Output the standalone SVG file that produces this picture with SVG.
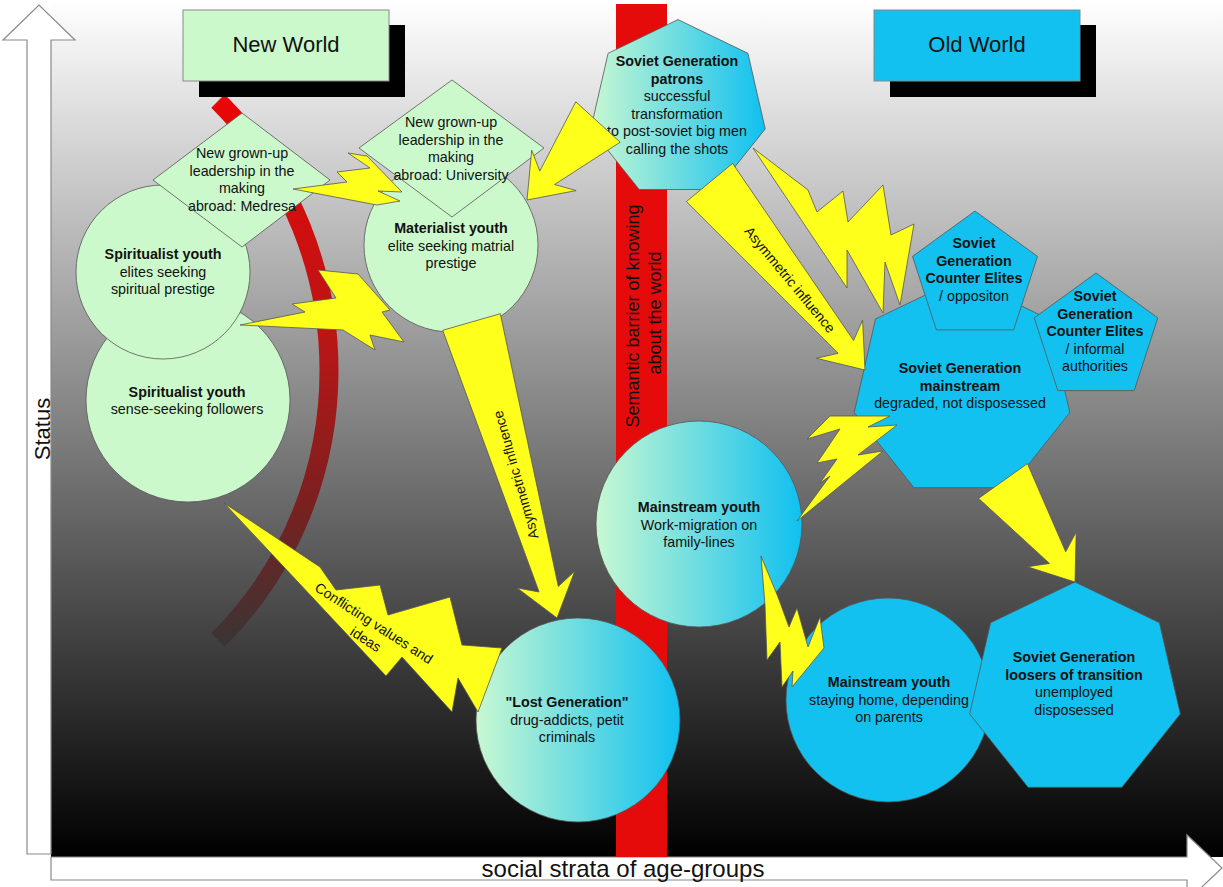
<svg xmlns="http://www.w3.org/2000/svg" width="1223" height="887" viewBox="0 0 1223 887">
<defs>
<style>
.t{font-family:"Liberation Sans",Arial,sans-serif;fill:#111;}
.n{font-size:14.3px;text-anchor:middle;}
.b{font-weight:bold;}
.green{fill:#ccf9cc;stroke:#555;stroke-width:0.8;}
.blue{fill:#13c1f0;stroke:#555;stroke-width:0.8;}
.grad{fill:url(#gb);stroke:#555;stroke-width:0.8;}
.bolt{fill:#ffff1c;stroke:#555;stroke-width:0.8;stroke-linejoin:miter;}
.axis{fill:#fff;stroke:#8a8a8a;stroke-width:1.2;}
</style>
<linearGradient id="bg" x1="0" y1="0" x2="0" y2="1"><stop offset="0" stop-color="#ffffff"/><stop offset="1" stop-color="#000000"/></linearGradient>
<linearGradient id="gb" x1="0" y1="0" x2="1" y2="0"><stop offset="0" stop-color="#c8f8d2"/><stop offset="1" stop-color="#10c0f0"/></linearGradient>
<linearGradient id="arcg" gradientUnits="userSpaceOnUse" x1="0" y1="100" x2="0" y2="640"><stop offset="0" stop-color="#ea0606"/><stop offset="0.45" stop-color="#b81616"/><stop offset="0.75" stop-color="#7a2020"/><stop offset="1" stop-color="#3c3434"/></linearGradient>
</defs>

<g id="background">
<rect x="51" y="0" width="1172" height="857" fill="url(#bg)"/>
</g>

<g id="axes">
<polygon class="axis" points="27,854 27,40 3,40 39,5 75,40 51,40 51,854"/>
<polygon class="axis" points="51,857 1187,857 1187,835 1222,868 1187,901 1187,880 51,880"/>
<text class="t" font-size="22" text-anchor="middle" transform="translate(50,429) rotate(-90)">Status</text>
<text class="t" font-size="24" text-anchor="middle" x="623" y="877">social strata of age-groups</text>
</g>

<g id="semantic-barrier">
<rect x="616" y="4" width="51" height="853" fill="#e60b0b"/>
<text class="t" font-size="18" text-anchor="middle" transform="translate(639,316) rotate(-90)">Semantic barrier of knowing</text>
<text class="t" font-size="18" text-anchor="middle" transform="translate(661,313) rotate(-90)">about the world</text>
</g>

<g id="generation-arc">
<path d="M218,101 C366,249 366,492 218,640" fill="none" stroke="url(#arcg)" stroke-width="19"/>
</g>

<g id="title-new-world">
<rect x="199" y="25" width="206" height="72" fill="#000"/>
<rect x="183" y="10" width="206" height="71" fill="#ccf9cc" stroke="#888" stroke-width="1"/>
<text class="t" font-size="22" text-anchor="middle" x="286" y="52">New World</text>
</g>

<g id="title-old-world">
<rect x="890" y="25" width="206" height="72" fill="#000"/>
<rect x="874" y="10" width="206" height="71" fill="#13c1f0" stroke="#888" stroke-width="1"/>
<text class="t" font-size="22" text-anchor="middle" x="977" y="52">Old World</text>
</g>

<g id="spiritualist-followers">
<circle class="green" cx="188" cy="400" r="102"/>
<text class="t n"><tspan class="b" x="187" y="397">Spiritualist youth</tspan><tspan x="187" y="414">sense-seeking followers</tspan></text>
</g>

<g id="spiritualist-elites">
<circle class="green" cx="163" cy="272" r="87"/>
<text class="t n"><tspan class="b" x="163" y="259">Spiritualist youth</tspan><tspan x="163" y="276.5">elites seeking</tspan><tspan x="163" y="294">spiritual prestige</tspan></text>
</g>

<g id="leadership-medresa">
<polygon class="green" points="153,180 242,113 330,180 242,247"/>
<text class="t n"><tspan x="242" y="158">New grown-up</tspan><tspan x="242" y="175.5">leadership in the</tspan><tspan x="242" y="193">making</tspan><tspan x="242" y="210.5">abroad: Medresa</tspan></text>
</g>

<g id="materialist-youth">
<circle class="green" cx="451" cy="245" r="87"/>
<text class="t n"><tspan class="b" x="451" y="233">Materialist youth</tspan><tspan x="451" y="250.5">elite seeking matrial</tspan><tspan x="451" y="268">prestige</tspan></text>
</g>

<g id="leadership-university">
<polygon class="green" points="359,148 452,80 544,148 452,217"/>
<text class="t n"><tspan x="451" y="127">New grown-up</tspan><tspan x="451" y="144.5">leadership in the</tspan><tspan x="451" y="162">making</tspan><tspan x="451" y="179.5">abroad: University</tspan></text>
</g>

<g id="soviet-patrons">
<polygon class="grad" points="678,19.6 747.9,53.3 765.2,128.9 716.8,189.5 639.2,189.5 590.8,128.9 608.1,53.3"/>
<text class="t n"><tspan class="b" x="677" y="66">Soviet Generation</tspan><tspan class="b" x="677" y="83.5">patrons</tspan><tspan x="677" y="101">successful</tspan><tspan x="677" y="118.5">transformation</tspan><tspan x="677" y="136">to post-soviet big men</tspan><tspan x="677" y="153.5">calling the shots</tspan></text>
</g>

<g id="soviet-mainstream">
<polygon class="blue" points="962,277.4 1048.5,319 1069.8,412.6 1010,487.7 914,487.7 854.2,412.6 875.5,319"/>
<text class="t n"><tspan class="b" x="960" y="373">Soviet Generation</tspan><tspan class="b" x="960" y="390.5">mainstream</tspan><tspan x="960" y="408">degraded, not disposessed</tspan></text>
</g>

<g id="counter-elites-opposition">
<polygon class="blue" points="975,211 1037.5,256.4 1013.6,329.9 936.4,329.9 912.5,256.4"/>
<text class="t n"><tspan class="b" x="974" y="248">Soviet</tspan><tspan class="b" x="974" y="265.5">Generation</tspan><tspan class="b" x="974" y="283">Counter Elites</tspan><tspan x="974" y="300.5">/ oppositon</tspan></text>
</g>

<g id="counter-elites-informal">
<polygon class="blue" points="1096,273 1157.8,317.9 1134.2,390.6 1057.8,390.6 1034.2,317.9"/>
<text class="t n"><tspan class="b" x="1095" y="301">Soviet</tspan><tspan class="b" x="1095" y="318.5">Generation</tspan><tspan class="b" x="1095" y="336">Counter Elites</tspan><tspan x="1095" y="353.5">/ informal</tspan><tspan x="1095" y="371">authorities</tspan></text>
</g>

<g id="mainstream-migration">
<circle class="grad" cx="699" cy="524" r="103"/>
<text class="t n"><tspan class="b" x="699" y="512">Mainstream youth</tspan><tspan x="699" y="529.5">Work-migration on</tspan><tspan x="699" y="547">family-lines</tspan></text>
</g>

<g id="lost-generation">
<circle class="grad" cx="578" cy="720" r="102"/>
<text class="t n"><tspan class="b" x="567" y="707">"Lost Generation"</tspan><tspan x="567" y="724.5">drug-addicts, petit</tspan><tspan x="567" y="742">criminals</tspan></text>
</g>

<g id="mainstream-home">
<circle class="blue" cx="888" cy="700" r="102"/>
<text class="t n"><tspan class="b" x="889" y="687">Mainstream youth</tspan><tspan x="889" y="704.5">staying home, depending</tspan><tspan x="889" y="722">on parents</tspan></text>
</g>

<g id="soviet-loosers">
<polygon class="blue" points="1075,582 1159.4,622.7 1180.3,714 1121.9,787.3 1028.1,787.3 969.7,714 990.6,622.7"/>
<text class="t n"><tspan class="b" x="1074" y="662">Soviet Generation</tspan><tspan class="b" x="1074" y="679.5">loosers of transition</tspan><tspan x="1074" y="697">unemployed</tspan><tspan x="1074" y="714.5">disposessed</tspan></text>
</g>

<g id="connectors">
<polygon class="bolt" points="575.8,101.8 539.8,171.1 531.7,150.2 527,200 576.1,190.6 554.6,184.5 620.2,142.2"/>
<polygon class="bolt" points="442.7,330.3 539.1,592 517.1,587.9 557,618 574.7,571.3 558.3,586.4 500.3,313.7"/>
<text class="t" font-size="14" text-anchor="middle" transform="translate(515.7,475) rotate(-106)" y="5">Asymmetric influence</text>
<polygon class="bolt" points="686.4,201.6 838.2,353.3 816.4,358.3 865,370 862.6,320.1 853.6,340.5 732.6,163.4"/>
<text class="t" font-size="14" text-anchor="middle" transform="translate(790,279.6) rotate(50.3)" y="5">Asymmetric influence</text>
<polygon class="bolt" points="978.6,498.4 1049.5,563.4 1027.4,566.8 1075,582 1076.2,532 1065.7,551.8 1027.4,463.6"/>
<polygon class="bolt" points="293,189 347,182 337,172 370,168 348,153 367,156 402,192 378,191 400,201 377,205"/>
<polygon class="bolt" points="240,325 305,312 292,304 336,298 318,270 358,274 390,310 382,312 404,342 370,335 375,350 343,330"/>
<polygon class="bolt" points="753,148 808,190 817,212 843,191 848,222 883,185 891,235 914,224 900,305 885,262 883,313 847,250 847,288"/>
<polygon class="bolt" points="830,416 890,416 868,427 897,425 858,455 883,451 797,521 830,476 820,483 837,459 817,463 840,429 807,439"/>
<polygon class="bolt" points="761,556 778,597 789,627 797,608 808,647 820,617 824,648 792,687 793,671 782,687 780,642 767,660 765,605"/>
<polygon class="bolt" points="224,503 320,567 336,590 380,585 388,615 450,597 462,645 502,648 478,712 458,678 452,712 402,657 386,676"/>
<text class="t" font-size="14" text-anchor="middle" transform="translate(374,623) rotate(33)"><tspan x="0" y="5">Conflicting values and</tspan><tspan x="2" y="23">ideas</tspan></text>
</g>
</svg>
